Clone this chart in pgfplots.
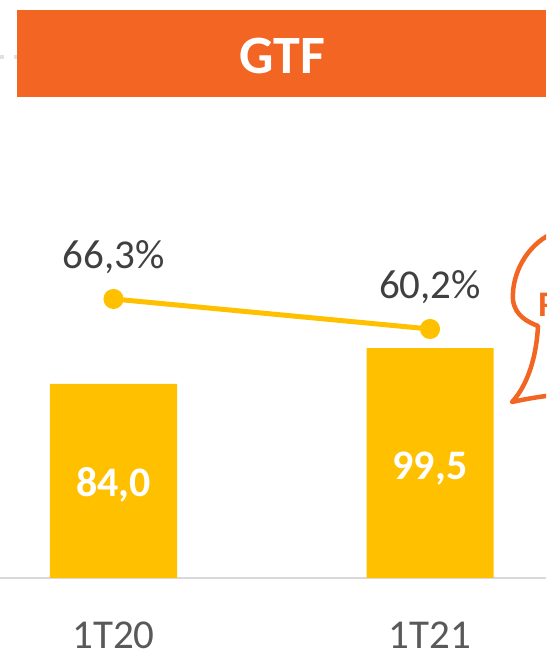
\documentclass[border=0pt]{standalone}
\usepackage{fontspec}
\setmainfont{Carlito}
\usepackage{pgfplots}
\pgfplotsset{compat=1.18}
\definecolor{gold}{HTML}{FFC000}
\definecolor{gtforange}{HTML}{F36523}
\definecolor{txtgray}{HTML}{404040}
\definecolor{lblgray}{HTML}{595959}
\definecolor{axgray}{HTML}{D9D9D9}
\pgfkeys{/pgf/number format/assume math mode=true}

\begin{document}
\begin{tikzpicture}[x=1pt,y=1pt]
\useasboundingbox (0,-72) rectangle (546,578);
\clip (0,-72) rectangle (546,578);
% banner
\fill[gtforange] (17,481) rectangle (546,568);
\node[white, font=\fontsize{54}{60}\selectfont\bfseries, anchor=base, inner sep=0] at (282,504) {GTF};
\draw[line width=4pt, color=axgray!80, dash pattern=on 3.5pt off 10.5pt] (0,521) -- (17,521);

% bars
\begin{axis}[
  at={(0,0)}, anchor=south west,
  scale only axis, width=546pt, height=468pt,
  xmin=-0.3586, xmax=1.3665, ymin=0, ymax=202.64,
  axis y line=none, axis x line*=bottom,
  axis line style={draw=axgray, line width=2pt, -},
  xtick={0,1}, xticklabels={1T20,1T21}, major tick length=0pt,
  xticklabel style={anchor=base, yshift=-70pt, font=\fontsize{41}{49}\selectfont, text=lblgray},
  clip=false,
]
\addplot[ybar, bar width=127pt, fill=gold, draw=none] coordinates {(0,84.0) (1,99.5)};
\addplot[draw=none, mark=none, point meta=explicit,
  nodes near coords={\pgfmathprintnumber[fixed,fixed zerofill,precision=1,use comma,assume math mode=true]{\pgfplotspointmeta}},
  every node near coord/.style={anchor=base, yshift=-16pt, text=white, font=\fontsize{42}{50}\selectfont\bfseries}]
  coordinates {(0,42) [84.0] (1,49.75) [99.5]};
\end{axis}

% percentage line
\begin{axis}[
  at={(0,0)}, anchor=south west,
  scale only axis, width=546pt, height=468pt,
  xmin=-0.3586, xmax=1.3665, ymin=9.57, ymax=104.73,
  hide axis, clip=false,
]
\addplot[color=gold, line width=5pt, mark=*, mark size=7.5pt, mark options={draw=none, fill=gold},
  point meta=y,
  nodes near coords={\pgfmathprintnumber[fixed,fixed zerofill,precision=1,use comma,assume math mode=true]{\pgfplotspointmeta}\%},
  every node near coord/.style={anchor=base, yshift=30pt, text=txtgray, font=\fontsize{41}{49}\selectfont}]
  coordinates {(0,66.3) (1,60.2)};
\end{axis}

% callout bubble at the right edge
\draw[gtforange, line width=4.5pt, line cap=round, line join=round]
  (580,352) .. controls (530,348) and (511,305) .. (513,278)
  .. controls (515,262) and (528,256) .. (538,252)
  .. controls (536,215) and (525,190) .. (512,176)
  .. controls (530,180) and (550,183) .. (580,186);
\node[anchor=base west, inner sep=0, text=gtforange, font=\fontsize{36}{40}\selectfont\bfseries] at (538,261) {R};
\end{tikzpicture}
\end{document}
